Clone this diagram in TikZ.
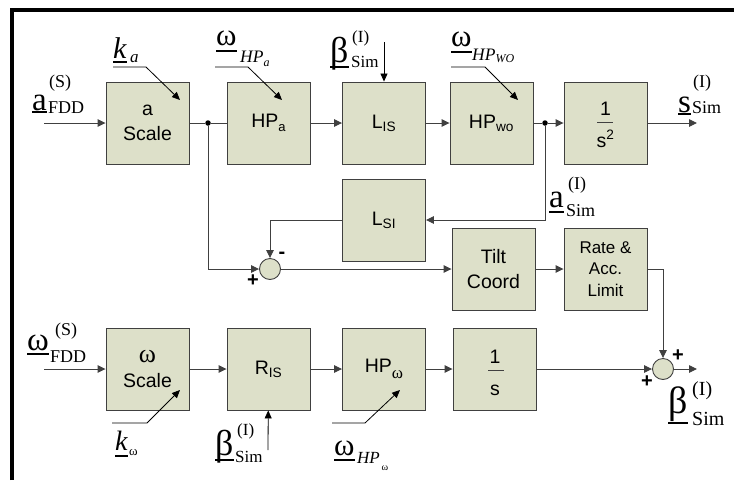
\documentclass[tikz,border=0pt]{standalone}
\usepackage{fontspec}
\setmainfont{Liberation Sans}
\newfontfamily\tm{Liberation Serif}
\usetikzlibrary{arrows.meta}
\definecolor{boxfill}{RGB}{221,224,201}
\definecolor{edge}{RGB}{64,64,64}
% underline: #1 = depth of the rule's bottom below baseline (pt)
\newcommand\ulx[2]{\setbox0=\hbox{#2}\rlap{\rule[-#1pt]{\wd0}{1.8pt}}\box0}
\newcommand\fs[1]{\fontsize{#1}{#1}\selectfont}
\tikzset{
  blk/.style={draw=edge, fill=boxfill, line width=0.9pt, minimum width=83pt,
    minimum height=82pt, inner sep=0pt, align=center,
    font=\fontsize{19.5}{25}\selectfont},
  sumc/.style={circle, draw=edge, fill=boxfill, line width=0.9pt,
    minimum size=21pt, inner sep=0pt},
  wire/.style={draw=edge, line width=0.9pt},
  arr/.style={wire, -{Triangle[length=8pt,width=7.5pt]}},
  lead/.style={draw=black, line width=0.8pt},
  leadarr/.style={lead, -{Triangle[length=8pt,width=7pt]}},
  jdot/.style={circle, fill=black, minimum size=5.5pt, inner sep=0pt},
  sym/.style={anchor=base west, inner sep=0pt, font=\tm\fs{33}},
  scr/.style={anchor=base west, inner sep=0pt, font=\tm\fs{18}},
  sgn/.style={inner sep=0pt, font=\bfseries\fs{20}},
  frac/.style={anchor=base, inner sep=0pt, font=\fs{19.5}},
}
\begin{document}
\begin{tikzpicture}[x=1pt, y=-1pt]
\useasboundingbox (0,0) rectangle (734,480);
% frame
\draw[line width=4pt] (12,480) -- (12,10) -- (734,10);

% top row
\node[blk] (ascale) at (147.5,123) {a\\Scale};
\node[blk] (hpa) at (268.5,123) {HP\raisebox{-4pt}{\fs{13}a}};
\node[blk] (lis) at (384,123) {L\textsubscript{IS}};
\node[blk] (hpwo) at (491.5,123) {HP\textsubscript{wo}};
\node[blk] (s2) at (605.5,123) {};
\node[frac] (s2num) at (605.5,115) {1};
\node[frac] (s2den) at (605.5,147) {s\textsuperscript{2}};
\draw[edge, line width=0.8pt] (597,122) -- (613,122);

% middle
\node[blk] (lsi) at (384,220) {L\textsubscript{SI}};
\node[sumc] (sum1) at (270,269) {};
\node[blk] (tilt) at (493.5,269) {Tilt\\Coord};
\node[blk, font=\fontsize{17}{21.7}\selectfont] (rate) at (605.5,269) {Rate \&\\Acc.\\Limit};

% bottom row
\node[blk] (wscale) at (147.5,369) {{\tm\fs{26}ω}\\Scale};
\node[blk] (ris) at (268.5,369) {R\textsubscript{IS}};
\node[blk] (hpw) at (384,369) {HP\raisebox{-6pt}{\tm\fs{17}ω}};
\node[blk] (s1) at (494.5,369) {};
\node[frac] (s1num) at (495,363) {1};
\node[frac] (s1den) at (495,395) {s};
\draw[edge, line width=0.8pt] (488,370) -- (504,370);
\node[sumc] (sum2) at (663,369) {};

% junctions
\node[jdot] (d1) at (208,123) {};
\node[jdot] (d2) at (545,123) {};

% coordinates for free ends
\coordinate (inA) at (44,123);
\coordinate (outS) at (697,123);
\coordinate (inW) at (44,369);
\coordinate (outB) at (697,369);

% connectors
\draw[arr] (inA) -- (ascale);
\draw[wire] (ascale) -- (d1) -- (hpa);
\draw[arr] (hpa) -- (lis);
\draw[arr] (lis) -- (hpwo);
\draw[wire] (hpwo) -- (d2);
\draw[arr] (d2) -- (s2);
\draw[arr] (s2) -- (outS);
\draw[arr] (d2) |- (lsi);
\draw[arr] (lsi.west) -| (sum1);
\draw[arr] (d1) |- (sum1);
\draw[arr] (sum1) -- (tilt);
\draw[arr] (tilt) -- (rate);
\draw[arr] (rate) -| (sum2);
\draw[arr] (inW) -- (wscale);
\draw[arr] (wscale) -- (ris);
\draw[arr] (ris) -- (hpw);
\draw[arr] (hpw) -- (s1);
\draw[arr] (s1) -- (sum2);
\draw[arr] (sum2) -- (outB);

% signs
\node[sgn] (m1) at (282,255) {-};
\node[sgn] (p1) at (253,281) {+};
\node[sgn] (p2) at (678,356) {+};
\node[sgn] (p3) at (647,382) {+};

% leader arrows
\coordinate (kaS) at (113,67); \coordinate (kaK) at (146,67); \coordinate (kaE) at (180,100);
\draw[leadarr] (kaS) -- (kaK) -- (kaE);
\coordinate (whaS) at (215,67); \coordinate (whaK) at (248,67); \coordinate (whaE) at (282,100);
\draw[leadarr] (whaS) -- (whaK) -- (whaE);
\coordinate (whwS) at (451,67); \coordinate (whwK) at (485,67); \coordinate (whwE) at (518,100);
\draw[leadarr] (whwS) -- (whwK) -- (whwE);
\coordinate (bT) at (384,42);
\draw[leadarr] (bT) -- (lis);
\coordinate (kwS) at (112,423); \coordinate (kwK) at (147,423); \coordinate (kwE) at (180,390);
\draw[leadarr] (kwS) -- (kwK) -- (kwE);
\coordinate (bB) at (268,450);
\draw[leadarr] (bB) -- (ris);
\coordinate (whoS) at (332,423); \coordinate (whoK) at (365,423); \coordinate (whoE) at (400,390);
\draw[leadarr] (whoS) -- (whoK) -- (whoE);

% signal labels
% a_FDD^(S)
\node[sym] (aF) at (32,110) {\ulx{3}{a}};
\node[scr] (aFsub) at (48,113) {FDD};
\node[scr] (aFsup) at (49,87) {(S)};
% s_Sim^(I)
\node[sym] (sS) at (678,112) {\ulx{3}{s}};
\node[scr] (sSsub) at (692,113) {Sim};
\node[scr] (sSsup) at (693,87) {(I)};
% a_Sim^(I) middle
\node[sym] (aS) at (549,207) {\ulx{6}{a}};
\node[scr] (aSsub) at (566,216) {Sim};
\node[scr] (aSsup) at (568,189) {(I)};
% omega_FDD^(S)
\node[sym, font=\tm\fs{33}] (wF) at (27,350) {\ulx{5}{ω}};
\node[scr] (wFsub) at (50,362) {FDD};
\node[scr] (wFsup) at (55,335) {(S)};
% omega_HPa
\node[sym, font=\tm\fs{31}] (wa) at (216,45) {\ulx{7}{ω}};
\node[scr, font=\tm\itshape\fs{17.5}] (wasub) at (240,62) {HP\raisebox{-4pt}{\fs{12}a}};
% beta top
\node[sym, font=\tm\fs{36}] (bt) at (330,62) {\ulx{6}{β}};
\node[scr, font=\tm\fs{17}] (btsub) at (351,67) {Sim};
\node[scr, font=\tm\fs{17}] (btsup) at (352,42) {(I)};
% omega_HPwo
\node[sym, font=\tm\fs{31}] (ww) at (451,46) {\ulx{7}{ω}};
\node[scr, font=\tm\itshape\fs{17.5}] (wwsub) at (472,60) {HP\raisebox{-2pt}{\fs{12}WO}};
% k_a
\node[sym, font=\tm\itshape\fs{30}] (ka) at (113,58) {\ulx{5}{k}};
\node[scr, font=\tm\itshape\fs{17}] (kasub) at (130,62) {a};
% k_omega
\node[sym, font=\tm\itshape\fs{28}] (kw) at (115,450) {\ulx{7}{k}};
\node[scr, font=\tm\fs{13}] (kwsub) at (129,455) {ω};
% beta bottom
\node[sym, font=\tm\fs{36}] (bb) at (215,455) {\ulx{6}{β}};
\node[scr, font=\tm\fs{17}] (bbsub) at (235,462) {Sim};
\node[scr, font=\tm\fs{17}] (bbsup) at (237,435) {(I)};
% omega_HPomega
\node[sym, font=\tm\fs{31}] (wo) at (334,455) {\ulx{6}{ω}};
\node[scr, font=\tm\itshape\fs{17}] (wosub) at (357,463) {HP};
\node[scr, font=\tm\fs{10}] (wosub2) at (381.5,470) {ω};
% beta output
\node[sym, font=\tm\fs{38}] (bo) at (668,413) {\ulx{11}{β}};
\node[scr, font=\tm\fs{20}] (bosub) at (692,425) {Sim};
\node[scr, font=\tm\fs{20}] (bosup) at (692,395) {(I)};
\end{tikzpicture}
\end{document}
